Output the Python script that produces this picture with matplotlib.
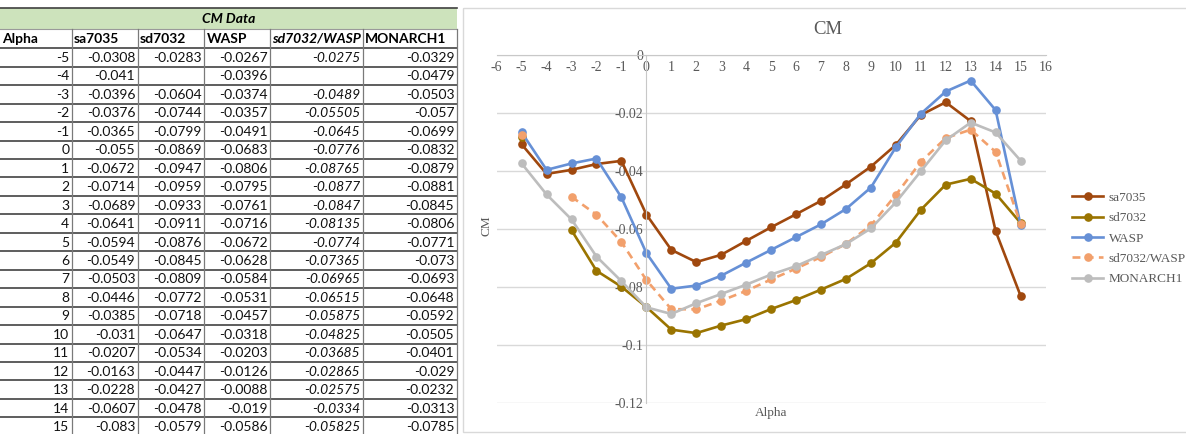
import numpy as np
import matplotlib
matplotlib.use("Agg")
import matplotlib.pyplot as plt
from matplotlib.patches import Rectangle

plt.rcParams["font.family"] = ["Liberation Serif", "DejaVu Serif"]

# ---------------- data ----------------
alpha = list(range(-5, 16))
sa7035 = [-0.0308, -0.041, -0.0396, -0.0376, -0.0365, -0.055, -0.0672, -0.0714, -0.0689, -0.0641,
          -0.0594, -0.0549, -0.0503, -0.0446, -0.0385, -0.031, -0.0207, -0.0163, -0.0228, -0.0607, -0.083]
sd7032 = [-0.0283, None, -0.0604, -0.0744, -0.0799, -0.0869, -0.0947, -0.0959, -0.0933, -0.0911,
          -0.0876, -0.0845, -0.0809, -0.0772, -0.0718, -0.0647, -0.0534, -0.0447, -0.0427, -0.0478, -0.0579]
wasp = [-0.0267, -0.0396, -0.0374, -0.0357, -0.0491, -0.0683, -0.0806, -0.0795, -0.0761, -0.0716,
        -0.0672, -0.0628, -0.0584, -0.0531, -0.0457, -0.0318, -0.0203, -0.0126, -0.0088, -0.019, -0.0586]
sd7032_wasp = [-0.0275, None, -0.0489, -0.05505, -0.0645, -0.0776, -0.08765, -0.0877, -0.0847, -0.08135,
               -0.0774, -0.07365, -0.06965, -0.06515, -0.05875, -0.04825, -0.03685, -0.02865, -0.02575,
               -0.0334, -0.05825]
monarch1 = [-0.0329, -0.0479, -0.0503, -0.057, -0.0699, -0.0832, -0.0879, -0.0881, -0.0845, -0.0806,
            -0.0771, -0.073, -0.0693, -0.0648, -0.0592, -0.0505, -0.0401, -0.029, -0.0232, -0.0313, -0.0785]
# MONARCH1 as drawn in the chart (differs from the table)
monarch1_chart = [-0.0374, -0.0481, -0.0567, -0.0695, -0.0780, -0.0870, -0.0893, -0.0856, -0.0824,
                  -0.0792, -0.0757, -0.0728, -0.0690, -0.0652, -0.0598, -0.0508, -0.0401, -0.0294,
                  -0.0233, -0.0267, -0.0364]

table_title = "CM Data"
col_headers = ["Alpha", "sa7035", "sd7032", "WASP", "sd7032/WASP", "MONARCH1"]
series_names = ["sa7035", "sd7032", "WASP", "sd7032/WASP", "MONARCH1"]
x_ticks = list(range(-6, 17))
y_ticks = [0, -0.02, -0.04, -0.06, -0.08, -0.1, -0.12]
y_tick_labels = ["0", "-0.02", "-0.04", "-0.06", "-0.08", "-0.1", "-0.12"]

# ---------------- figure ----------------
W, H = 1186, 434
fig = plt.figure(figsize=(W / 100, H / 100), dpi=100)
fig.patch.set_facecolor("white")

bg = fig.add_axes([0, 0, 1, 1])
bg.set_xlim(0, W)
bg.set_ylim(H, 0)
bg.axis("off")

# ---------------- table ----------------
tfont = ["Lato", "DejaVu Sans"]
tsize = 10
col_x = [0, 71.7, 137.7, 204, 270, 362.7, 456.7]
title_top, header_top, data_top, row_h = 8, 28.5, 48.3, 18.45

bg.add_patch(Rectangle((0, title_top), col_x[-1], header_top - title_top,
                       facecolor="#CDE3BC", edgecolor="none"))
bg.plot([0, col_x[-1]], [title_top, title_top], color="#404040", lw=1.2)
bg.text(col_x[-1] / 2, (title_top + header_top) / 2 + 0.5, table_title, fontfamily=tfont,
        fontsize=tsize, fontweight="bold", fontstyle="italic", ha="center", va="center", color="#000000")
bg.plot([0, col_x[-1]], [header_top, header_top], color="#9A9A9A", lw=0.8)

for j, h in enumerate(col_headers):
    bg.text(col_x[j] + 2.5, (header_top + data_top) / 2 + 0.5, h, fontfamily=tfont, fontsize=tsize,
            fontweight="bold", fontstyle="italic" if h == "sd7032/WASP" else "normal",
            ha="left", va="center", color="#000000")

cols = [alpha, sa7035, sd7032, wasp, sd7032_wasp, monarch1]
n_rows = len(alpha)
bottom = data_top + row_h * n_rows
for i in range(n_rows + 1):
    y = data_top + row_h * i
    bg.plot([0, col_x[-1]], [y, y], color="#505050", lw=1.3, solid_capstyle="butt")
for x in col_x[1:]:
    bg.plot([x, x], [header_top, bottom], color="#7A7A7A", lw=0.9)

for i in range(n_rows):
    yc = data_top + row_h * (i + 0.5) + 0.5
    for j, col in enumerate(cols):
        v = col[i]
        if v is None:
            continue
        bg.text(col_x[j + 1] - 2.5, yc, str(v), fontfamily=tfont, fontsize=tsize,
                fontstyle="italic" if j == 4 else "normal", ha="right", va="center", color="#111111")

# chart area box
bg.add_patch(Rectangle((463, 8), W - 463 + 5, 424, facecolor="none", edgecolor="#D9D9D9", lw=1))

# ---------------- chart ----------------
px_l, px_r, px_t, px_b = 496.7, 1045.5, 55, 403
ax = fig.add_axes([px_l / W, 1 - px_b / H, (px_r - px_l) / W, (px_b - px_t) / H])
ax.patch.set_alpha(0)
ax.set_xlim(-6, 16)
ax.set_ylim(-0.12, 0)
ax.set_xticks(x_ticks)
ax.set_xticklabels([str(t) for t in x_ticks])
ax.set_yticks(y_ticks)
ax.set_yticklabels(y_tick_labels)
ax.yaxis.grid(True, color="#D9D9D9", lw=1)
ax.set_axisbelow(True)
for s in ["top", "right"]:
    ax.spines[s].set_visible(False)
ax.spines["left"].set_position(("data", 0))
ax.spines["bottom"].set_position(("data", 0))
ax.spines["left"].set_color("#C8C8C8")
ax.spines["bottom"].set_color("#C8C8C8")
ax.tick_params(axis="both", length=0, labelsize=10, labelcolor="#595959")
ax.tick_params(axis="x", pad=4)
ax.tick_params(axis="y", pad=2)


def arr(v):
    return np.array([np.nan if x is None else x for x in v], dtype=float)


styles = [
    (sa7035, "#A0480E", "-"),
    (sd7032, "#9A7400", "-"),
    (wasp, "#6690D6", "-"),
    (sd7032_wasp, "#F2A06C", "--"),
    (monarch1_chart, "#BDBDBD", "-"),
]
handles = []
for (vals, c, ls), name in zip(styles, series_names):
    kw = dict(dashes=(3, 2)) if ls == "--" else {}
    ln, = ax.plot(alpha, arr(vals), color=c, ls=ls, lw=1.9, marker="o", ms=5.2,
                  markerfacecolor=c, markeredgecolor=c, label=name, clip_on=False, **kw)
    handles.append(ln)

leg = ax.legend(handles=handles, loc="center left", bbox_to_anchor=(1072 / W, 1 - 238.5 / H),
                bbox_transform=fig.transFigure, frameon=False, handlelength=2.35, handletextpad=0.45,
                labelspacing=0.62, borderpad=0, borderaxespad=0,
                prop={"family": "Liberation Serif", "size": 9.5})
for t in leg.get_texts():
    t.set_color("#595959")

fig.text(828 / W, 1 - 29 / H, "CM", fontsize=13.5, color="#595959", ha="center", va="center")
fig.text(487 / W, 1 - 226 / H, "CM", fontsize=9.5, color="#595959",
         ha="center", va="center", rotation=90)
fig.text(771 / W, 1 - 413 / H, "Alpha", fontsize=9.5, color="#595959", ha="center", va="center")

fig.savefig("out.png", dpi=100, facecolor="white")
